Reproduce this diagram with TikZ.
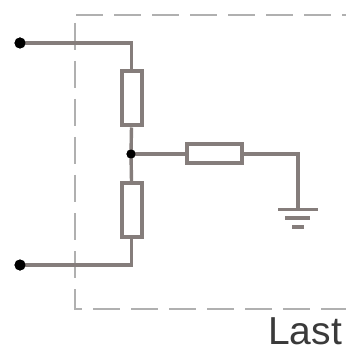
\documentclass[tikz,border=0pt]{standalone}
\usepackage{fontspec}
\setmainfont{Liberation Sans}
\definecolor{wirec}{HTML}{857D7B}
\definecolor{dashc}{HTML}{B0B0B0}
\definecolor{textc}{HTML}{3A3A3A}
\tikzset{
  wire/.style={draw=wirec,line width=3.4pt,line cap=butt,line join=miter},
  resistor/.style={draw=wirec,line width=4pt,fill=white,inner sep=0pt,rectangle},
  frame/.style={draw=dashc,line width=2.2pt,dash pattern=on 27pt off 11pt},
  term/.style={circle,fill=black,inner sep=0pt,minimum size=11pt},
  junc/.style={circle,fill=black,inner sep=0pt,minimum size=9pt},
}
\begin{document}
\begin{tikzpicture}[x=1pt,y=-1pt]
\useasboundingbox (0,0) rectangle (346,345);
\fill[white] (0,0) rectangle (346,345);
% dashed frame
\draw[frame] (76,15) -- (346,15);
\draw[frame] (75,23) -- (75,309) -- (346,309);
% nodes
\node[resistor,minimum width=20pt,minimum height=54pt] (r1) at (131.5,98.5) {};
\node[resistor,minimum width=20pt,minimum height=54pt] (r2) at (131.5,210) {};
\node[resistor,minimum width=55pt,minimum height=19pt] (r3) at (214.5,154) {};
\node[junc] (j) at (131,154) {};
\node[term] (t1) at (20,43) {};
\node[term] (t2) at (20,265) {};
\coordinate (c1) at (131.5,43);
\coordinate (c2) at (131.5,265);
\coordinate (c3) at (298,154);
\coordinate (g1) at (298,209.5);
% wires
\draw[wire] (t1.center) -- (c1) -- (r1.north);
\draw[wire] (r1.south) -- (j.center) -- (r2.north);
\draw[wire] (r2.south) -- (c2) -- (t2.center);
\draw[wire] (j.center) -- (r3.west);
\draw[wire] (r3.east) -- (c3) -- (g1);
% redraw terminals above wires
\node[term] at (t1) {};
\node[term] at (t2) {};
\node[junc] at (j) {};
% ground
\draw[wire] (278,209.5) -- (318,209.5);
\draw[wire] (285,218) -- (310,218);
\draw[wire] (292,227) -- (304,227);
% label
\node[anchor=base west,inner sep=0pt,font=\fontsize{39}{39}\selectfont,text=textc] (lbl) at (268,344) {Last};
\end{tikzpicture}
\end{document}
